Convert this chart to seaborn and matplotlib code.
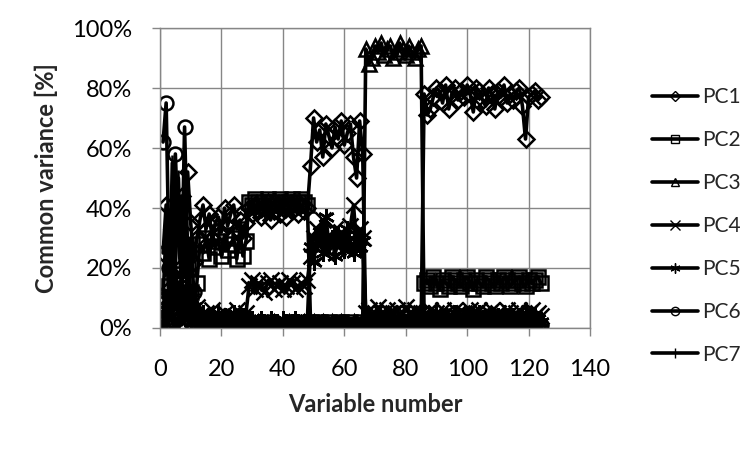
import matplotlib
matplotlib.use("Agg")
import matplotlib.pyplot as plt
from matplotlib.ticker import PercentFormatter
import seaborn as sns

sns.set_style("white")
plt.rcParams['font.family'] = ['Lato', 'DejaVu Sans']

# variable numbers 1..124
var_num = list(range(1, 125))

# common variance [%] per principal component
pc1 = [25, 41, 13, 33, 38, 30, 44, 18, 52, 35, 22, 30,
       36, 41, 33, 38, 30, 35, 37, 32, 40, 34, 38, 41, 33, 36, 30, 35,
       40, 38, 41, 39, 37, 40, 42, 36, 39, 41, 38, 40, 37, 41, 39, 40, 38, 41, 39, 40,
       54, 70, 62, 66, 57, 68, 64, 60, 67, 63, 69, 61, 65, 68, 57, 50, 69, 58,
       1, 2, 1, 0, 1, 2, 1, 1, 0, 2, 1, 1, 2, 0, 1, 1, 2, 1, 0,
       78, 71, 73, 77, 80, 79, 75, 81, 73, 78, 80, 76, 79, 77, 81, 78, 72, 80, 79, 76,
       74, 80, 78, 73, 79, 77, 81, 75, 78, 76, 79, 80, 74, 63, 77, 78, 79, 76, 77]
pc2 = [8, 3, 14, 5, 18, 10, 16, 6, 20, 12, 4, 15,
       28, 25, 30, 23, 32, 27, 29, 24, 31, 26, 28, 30, 23, 33, 24, 29,
       42, 41, 43, 42, 41, 42, 43, 42, 41, 42, 43, 41, 42, 42, 43, 41, 42, 43, 42, 41,
       2, 1, 1, 2, 0, 1, 2, 1, 1, 0, 2, 1, 1, 2, 1, 0, 1, 2,
       1, 0, 1, 2, 1, 1, 0, 1, 2, 1, 0, 1, 1, 2, 1, 0, 1, 1, 2,
       15, 16, 14, 17, 15, 13, 16, 15, 14, 17, 16, 15, 14, 16, 17, 15, 13, 16, 15, 14,
       17, 16, 15, 14, 16, 15, 17, 16, 14, 15, 16, 17, 15, 14, 16, 15, 16, 17, 15]
pc3 = [3, 1, 5, 2, 0, 4, 1, 2, 6, 1, 3, 0,
       1, 2, 0, 1, 3, 1, 2, 0, 1, 2, 1, 0, 2, 1, 1, 0,
       1, 0, 1, 2, 1, 0, 1, 1, 2, 1, 0, 1, 1, 2, 0, 1, 1, 0, 2, 1,
       1, 2, 1, 0, 2, 1, 1, 2, 0, 1, 2, 1, 1, 0, 2, 1, 1, 2,
       93, 88, 90, 94, 92, 95, 91, 93, 94, 90, 92, 95, 93, 91, 94, 92, 90, 93, 94,
       2, 3, 1, 2, 4, 2, 1, 3, 2, 1, 2, 3, 1, 2, 4, 2, 1, 3, 2, 2,
       1, 3, 2, 1, 2, 3, 1, 2, 4, 2, 1, 3, 2, 1, 2, 3, 1, 2, 2]
pc4 = [5, 10, 3, 20, 8, 15, 4, 12, 6, 9, 3, 7,
       4, 2, 5, 3, 6, 2, 4, 3, 5, 2, 4, 3, 6, 2, 3, 5,
       14, 16, 13, 15, 14, 12, 15, 16, 13, 14, 15, 13, 14, 16, 15, 13, 14, 15, 14, 16,
       24, 30, 33, 28, 36, 25, 31, 29, 33, 27, 32, 30, 26, 34, 41, 28, 33, 30,
       5, 6, 4, 5, 7, 5, 4, 6, 5, 5, 6, 4, 5, 7, 5, 4, 6, 5, 5,
       4, 5, 6, 3, 5, 4, 6, 5, 3, 4, 6, 5, 4, 5, 3, 6, 4, 5, 6, 4,
       3, 5, 6, 4, 5, 3, 4, 6, 5, 4, 5, 6, 3, 4, 5, 6, 4, 5, 4]
pc5 = [2, 6, 12, 4, 9, 3, 18, 5, 11, 2, 7, 4,
       3, 5, 2, 4, 1, 3, 5, 2, 4, 3, 1, 5, 2, 3, 4, 2,
       2, 3, 1, 2, 3, 2, 1, 3, 2, 2, 1, 3, 2, 1, 2, 3, 2, 1, 2, 3,
       27, 22, 29, 32, 25, 37, 28, 30, 24, 31, 29, 26, 33, 28, 25, 31, 27, 29,
       2, 3, 1, 2, 3, 2, 1, 2, 3, 2, 1, 2, 3, 2, 2, 1, 3, 2, 1,
       3, 2, 4, 3, 5, 2, 3, 4, 2, 3, 5, 3, 2, 4, 3, 2, 4, 3, 5, 2,
       3, 4, 2, 3, 4, 3, 5, 2, 3, 4, 2, 3, 4, 5, 3, 2, 4, 3, 2]
pc6 = [62, 75, 20, 10, 58, 30, 15, 67, 25, 8, 12, 5,
       2, 1, 3, 1, 0, 2, 1, 1, 2, 0, 1, 2, 1, 0, 1, 1,
       1, 0, 1, 1, 0, 1, 2, 1, 0, 1, 1, 0, 1, 2, 1, 0, 1, 1, 0, 1,
       1, 0, 1, 1, 2, 0, 1, 1, 0, 1, 2, 1, 0, 1, 1, 0, 1, 1,
       0, 1, 1, 0, 1, 0, 1, 1, 0, 1, 0, 1, 1, 0, 1, 0, 1, 1, 0,
       1, 0, 1, 1, 0, 1, 0, 1, 1, 0, 1, 1, 0, 1, 0, 1, 1, 0, 1, 0,
       1, 1, 0, 1, 0, 1, 1, 0, 1, 1, 0, 1, 0, 1, 1, 0, 1, 0, 1]
pc7 = [10, 33, 5, 55, 20, 50, 15, 40, 8, 30, 12, 6,
       2, 3, 1, 2, 4, 1, 2, 3, 1, 2, 1, 3, 2, 1, 2, 1,
       0, 1, 1, 0, 1, 0, 1, 1, 0, 1, 1, 0, 1, 0, 1, 1, 0, 1, 0, 1,
       1, 1, 0, 1, 2, 1, 0, 1, 1, 0, 1, 2, 1, 0, 1, 1, 0, 1,
       0, 1, 0, 1, 1, 0, 1, 0, 1, 0, 1, 1, 0, 1, 0, 1, 0, 1, 0,
       1, 2, 1, 0, 1, 2, 1, 1, 0, 1, 2, 1, 0, 1, 1, 2, 1, 0, 1, 1,
       2, 1, 0, 1, 1, 2, 1, 0, 1, 2, 1, 1, 0, 1, 2, 1, 0, 1, 1]

names = ["PC1", "PC2", "PC3", "PC4", "PC5", "PC6", "PC7"]
series = [pc1, pc2, pc3, pc4, pc5, pc6, pc7]
markers = ["D", "s", "^", "x", (6, 2, 0), "o", "|"]
msizes = [8, 10, 10, 12, 12, 10, 12]

fig = plt.figure(figsize=(7.5, 4.5), dpi=100)
ax = fig.add_axes([160/750, 1-328/450, 430/750, 300/450])

for name, vals, mk, ms in zip(names, series, markers, msizes):
    sns.lineplot(x=var_num, y=vals, ax=ax, color="black", linewidth=2.6,
                 marker=mk, markersize=ms, markerfacecolor="none",
                 markeredgecolor="black", markeredgewidth=1.8, label=name)

ax.set_xlim(0, 140)
ax.set_ylim(0, 100)
ax.set_xticks(range(0, 141, 20))
ax.set_yticks(range(0, 101, 20))
ax.yaxis.set_major_formatter(PercentFormatter(100, decimals=0))
ax.grid(True, color="#868686", linewidth=1)
ax.set_axisbelow(True)
for sp in ax.spines.values():
    sp.set_color("#868686")
    sp.set_linewidth(1)
ax.tick_params(axis="both", labelsize=17, colors="#868686", labelcolor="black",
               length=6, width=1, direction="out", left=True, bottom=True)
ax.tick_params(axis="y", pad=14)
ax.tick_params(axis="x", pad=16)

ax.set_xlabel("Variable number", fontsize=17, fontweight="bold", labelpad=10)
ax.set_ylabel("Common variance [%]", fontsize=17, fontweight="bold", labelpad=10)

leg = ax.legend(loc="center left", bbox_to_anchor=(1.1, 0.34), frameon=False,
                fontsize=15, markerscale=0.6, handlelength=2.2, handletextpad=0.2,
                labelspacing=1.1)
for h in leg.legend_handles:
    h.set_markeredgewidth(1.0)

fig.savefig("out.png", dpi=100)
